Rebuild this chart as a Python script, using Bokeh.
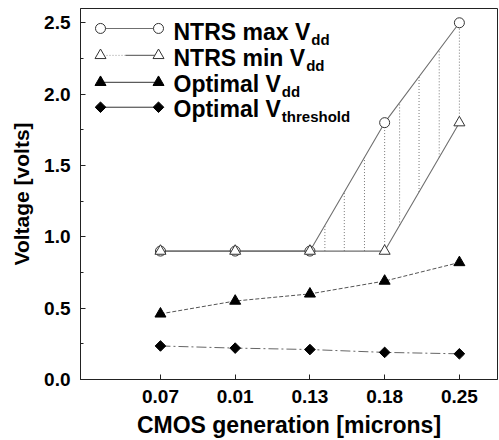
import numpy as np
from bokeh.plotting import figure
from bokeh.models import Range1d, Label, FixedTicker, PrintfTickFormatter
from bokeh.embed import file_html
from bokeh.resources import INLINE

# ---- data ----
generations = ["0.07", "0.01", "0.13", "0.18", "0.25"]
ntrs_max_vdd = [0.9, 0.9, 0.9, 1.8, 2.5]
ntrs_min_vdd = [0.9, 0.9, 0.9, 0.9, 1.8]
optimal_vdd = [0.46, 0.55, 0.60, 0.69, 0.82]
optimal_vth = [0.235, 0.22, 0.21, 0.19, 0.18]
y_ticks = [0.0, 0.5, 1.0, 1.5, 2.0, 2.5]
legend_labels = ["NTRS max V", "NTRS min V", "Optimal V", "Optimal V"]
legend_subs = ["dd", "dd", "dd", "threshold"]

x = np.arange(len(generations))

# ---- layout ----
W, H = 499, 440
FL, FR, FT, FB = 80, 497, 8, 380
X0, X1 = -1.07, 4.51
Y0, Y1 = 0.0, 2.6
FONT = "Liberation Sans"

def sx(px):
    return X0 + (px - FL) / (FR - FL) * (X1 - X0)

def sy(py):
    return Y1 - (py - FT) / (FB - FT) * (Y1 - Y0)

p = figure(width=W, height=H, x_range=Range1d(X0, X1), y_range=Range1d(Y0, Y1),
           output_backend="svg", toolbar_location=None,
           min_border_left=FL, min_border_right=W - FR,
           min_border_top=FT, min_border_bottom=H - FB)
p.xgrid.visible = False
p.ygrid.visible = False
p.outline_line_color = "#222222"
p.outline_line_width = 1
p.background_fill_color = "white"
p.border_fill_color = "white"

# axes
p.xaxis.ticker = FixedTicker(ticks=list(x))
p.xaxis.major_label_overrides = {int(i): g for i, g in zip(x, generations)}
p.yaxis.ticker = FixedTicker(ticks=y_ticks, minor_ticks=[t + 0.25 for t in y_ticks])
p.yaxis.formatter = PrintfTickFormatter(format="%.1f")
p.xaxis.axis_label = "CMOS generation [microns]"
p.yaxis.axis_label = "Voltage [volts]"
for ax in (p.xaxis, p.yaxis):
    ax.axis_line_color = "#222222"
    ax.major_tick_in = 5
    ax.major_tick_out = 0
    ax.minor_tick_in = 3
    ax.minor_tick_out = 0
    ax.major_tick_line_color = "#222222"
    ax.minor_tick_line_color = "#222222"
    ax.major_label_text_font = FONT
    ax.major_label_text_font_style = "bold"
    ax.major_label_text_font_size = "19px"
    ax.major_label_text_color = "black"
    ax.axis_label_text_font = FONT
    ax.axis_label_text_font_style = "bold"
    ax.axis_label_text_font_size = "21px"
    ax.axis_label_text_color = "black"
    ax.major_label_standoff = 10
    ax.axis_label_standoff = 8
p.xaxis.axis_label_text_font_size = "23px"
p.xaxis.axis_label_standoff = 6
p.xaxis.minor_tick_line_color = None

# hatch between NTRS max and min (drawn from the data)
hx, hy0, hy1 = [], [], []
for i in range(len(x) - 1):
    if ntrs_max_vdd[i + 1] > ntrs_min_vdd[i + 1] or ntrs_max_vdd[i] > ntrs_min_vdd[i]:
        for f in [0.2, 0.46, 0.73, 1.0]:
            xv = x[i] + f * (x[i + 1] - x[i])
            hx.append(xv)
            hy0.append(ntrs_min_vdd[i] + f * (ntrs_min_vdd[i + 1] - ntrs_min_vdd[i]))
            hy1.append(ntrs_max_vdd[i] + f * (ntrs_max_vdd[i + 1] - ntrs_max_vdd[i]))
p.segment(x0=hx, y0=hy0, x1=hx, y1=hy1, line_color="#777777", line_width=1, line_dash="1 2")

# series
LC = "#6f6f6f"
p.line(x, ntrs_max_vdd, line_color=LC, line_width=1.1)
p.line(x, ntrs_min_vdd, line_color=LC, line_width=1.1)
p.line(x, optimal_vdd, line_color="#555555", line_width=1, line_dash="4 2")
p.line(x, optimal_vth, line_color="#666666", line_width=1, line_dash="10 3 2 3")
p.scatter(x, ntrs_max_vdd, marker="circle", size=10, fill_color="white", line_color="#333333", line_width=1)
p.scatter(x, ntrs_min_vdd, marker="triangle", size=11, fill_color="white", line_color="#333333", line_width=1)
p.scatter(x, optimal_vdd, marker="triangle", size=11, fill_color="black", line_color="black")
p.scatter(x, optimal_vth, marker="square", size=7.5, angle=np.pi / 4, fill_color="black", line_color="black")

# ---- legend (drawn manually to allow subscripts) ----
AW = {"N": 722, "T": 611, "R": 722, "S": 667, " ": 278, "m": 889, "a": 556, "x": 556,
      "V": 667, "i": 278, "n": 611, "O": 778, "p": 611, "t": 333, "l": 278}
LFS = 23
SHIFT = 3  # compensate label baseline placement
marker_rows = [28, 55, 82, 107]
base_rows = [35, 61, 87, 112]
mx0, mx1, tx = 100, 158, 173
# row 1: NTRS max
p.line([sx(mx0), sx(mx1)], [sy(marker_rows[0])] * 2, line_color=LC, line_width=1.1)
p.scatter([sx(mx0), sx(mx1)], [sy(marker_rows[0])] * 2, marker="circle", size=10,
          fill_color="white", line_color="#333333")
# row 2: NTRS min
p.line([sx(mx0), sx(125)], [sy(marker_rows[1])] * 2, line_color="#999999", line_width=1, line_dash="1 2")
p.line([sx(125), sx(mx1)], [sy(marker_rows[1])] * 2, line_color=LC, line_width=1.1)
p.scatter([sx(mx0), sx(mx1)], [sy(marker_rows[1])] * 2, marker="triangle", size=11,
          fill_color="white", line_color="#333333")
# row 3: Optimal Vdd
p.line([sx(mx0), sx(mx1)], [sy(marker_rows[2])] * 2, line_color="#333333", line_width=1)
p.scatter([sx(mx0), sx(mx1)], [sy(marker_rows[2])] * 2, marker="triangle", size=11,
          fill_color="black", line_color="black")
# row 4: Optimal Vthreshold
p.line([sx(mx0), sx(mx1)], [sy(marker_rows[3])] * 2, line_color="#333333", line_width=1)
p.scatter([sx(mx0), sx(mx1)], [sy(marker_rows[3])] * 2, marker="square", size=7.5, angle=np.pi / 4,
          fill_color="black", line_color="black")

for lab, sub, by in zip(legend_labels, legend_subs, base_rows):
    wpx = sum(AW.get(c, 556) for c in lab) / 1000 * LFS
    p.add_layout(Label(x=sx(tx), y=sy(by - SHIFT), text=lab, text_font=FONT, text_font_style="bold",
                       text_font_size=f"{LFS}px", text_baseline="alphabetic", text_color="black"))
    p.add_layout(Label(x=sx(tx + wpx + 1), y=sy(by + 7 - SHIFT), text=sub, text_font=FONT,
                       text_font_style="bold", text_font_size="15px",
                       text_baseline="alphabetic", text_color="black"))

open("out.html", "w").write(file_html(p, INLINE))
